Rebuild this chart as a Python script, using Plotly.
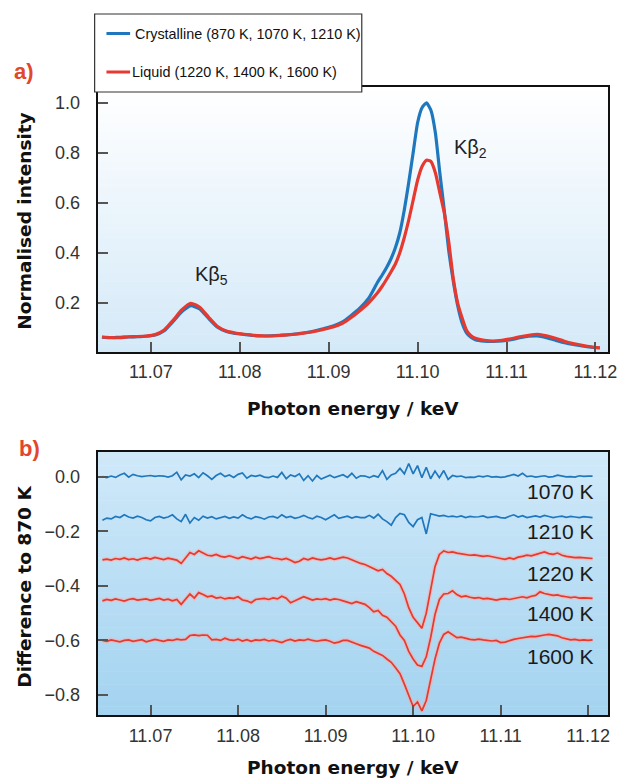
import plotly.graph_objects as go

# ---------------- data ----------------
E_TOP = [11.0645, 11.0655, 11.0665, 11.0675, 11.0685, 11.0695, 11.0705, 11.0715, 11.0725, 11.0735,
         11.0745, 11.0755, 11.0765, 11.0775, 11.0785, 11.0795, 11.0805, 11.0815, 11.0825, 11.0835,
         11.0845, 11.0855, 11.0865, 11.0875, 11.0885, 11.0895, 11.0905, 11.0915, 11.0925, 11.0935,
         11.0945, 11.0955, 11.0960, 11.0965, 11.0970, 11.0975, 11.0980, 11.0985, 11.0990, 11.0995,
         11.1000, 11.1005, 11.1010, 11.1015, 11.1020, 11.1025, 11.1030, 11.1035, 11.1040, 11.1045,
         11.1050, 11.1055, 11.1060, 11.1065, 11.1075, 11.1085, 11.1095, 11.1105, 11.1115, 11.1125,
         11.1135, 11.1145, 11.1155, 11.1165, 11.1175, 11.1185, 11.1195, 11.1205]

CRYSTALLINE = [0.062, 0.060, 0.062, 0.063, 0.064, 0.066, 0.071, 0.088, 0.125, 0.165,
               0.188, 0.175, 0.137, 0.102, 0.085, 0.077, 0.073, 0.069, 0.067, 0.068,
               0.070, 0.072, 0.076, 0.081, 0.088, 0.097, 0.107, 0.122, 0.148, 0.178,
               0.218, 0.282, 0.310, 0.340, 0.375, 0.420, 0.480, 0.570, 0.680, 0.800,
               0.920, 0.980, 1.000, 0.970, 0.880, 0.720, 0.570, 0.410, 0.290, 0.190,
               0.120, 0.080, 0.062, 0.052, 0.046, 0.045, 0.047, 0.052, 0.060, 0.066,
               0.067, 0.060, 0.050, 0.040, 0.033, 0.027, 0.022, 0.019]

LIQUID = [0.063, 0.061, 0.060, 0.064, 0.065, 0.067, 0.073, 0.091, 0.130, 0.172,
          0.198, 0.182, 0.142, 0.105, 0.087, 0.079, 0.074, 0.070, 0.068, 0.067,
          0.069, 0.072, 0.075, 0.080, 0.086, 0.094, 0.103, 0.117, 0.140, 0.168,
          0.200, 0.240, 0.265, 0.293, 0.323, 0.355, 0.400, 0.460, 0.530, 0.610,
          0.690, 0.745, 0.770, 0.765, 0.720, 0.640, 0.560, 0.445, 0.300, 0.200,
          0.140, 0.090, 0.068, 0.058, 0.050, 0.047, 0.050, 0.056, 0.064, 0.070,
          0.074, 0.068, 0.058, 0.046, 0.037, 0.030, 0.024, 0.020]

E_DIFF = [11.0645, 11.0650, 11.0655, 11.0660, 11.0665, 11.0670, 11.0675, 11.0680, 11.0685, 11.0690,
          11.0695, 11.0700, 11.0705, 11.0710, 11.0715, 11.0720, 11.0725, 11.0730, 11.0735, 11.0740,
          11.0745, 11.0750, 11.0755, 11.0760, 11.0765, 11.0770, 11.0775, 11.0780, 11.0785, 11.0790,
          11.0795, 11.0800, 11.0805, 11.0810, 11.0815, 11.0820, 11.0825, 11.0830, 11.0835, 11.0840,
          11.0845, 11.0850, 11.0855, 11.0860, 11.0865, 11.0870, 11.0875, 11.0880, 11.0885, 11.0890,
          11.0895, 11.0900, 11.0905, 11.0910, 11.0915, 11.0920, 11.0925, 11.0930, 11.0935, 11.0940,
          11.0945, 11.0950, 11.0955, 11.0960, 11.0965, 11.0970, 11.0975, 11.0980, 11.0985, 11.0990,
          11.0995, 11.1000, 11.1005, 11.1010, 11.1015, 11.1020, 11.1025, 11.1030, 11.1035, 11.1040,
          11.1045, 11.1050, 11.1055, 11.1060, 11.1065, 11.1070, 11.1075, 11.1080, 11.1085, 11.1090,
          11.1095, 11.1100, 11.1105, 11.1110, 11.1115, 11.1120, 11.1125, 11.1130, 11.1135, 11.1140,
          11.1145, 11.1150, 11.1155, 11.1160, 11.1165, 11.1170, 11.1175, 11.1180, 11.1185, 11.1190,
          11.1195, 11.1200, 11.1205]

D_1070 = [0.000, -0.004, 0.002, -0.003, 0.006, 0.012, -0.002, 0.008, 0.003, 0.000,
          0.002, 0.004, 0.001, 0.003, 0.002, -0.002, 0.003, 0.016, -0.012, 0.006,
          0.002, 0.010, -0.004, 0.014, 0.003, -0.010, 0.004, 0.012, 0.000, 0.006,
          -0.003, 0.008, 0.013, -0.006, 0.004, 0.001, 0.005, -0.002, -0.004, 0.002,
          -0.003, 0.015, -0.008, 0.006, 0.000, 0.010, -0.014, 0.003, -0.016, 0.004,
          -0.009, -0.003, 0.005, -0.004, 0.002, 0.007, -0.003, 0.012, -0.006, 0.003,
          0.002, -0.004, 0.003, -0.002, 0.022, -0.010, 0.006, 0.012, 0.030, 0.010,
          0.048, 0.010, 0.040, -0.004, 0.034, -0.008, 0.020, -0.004, 0.022, -0.010,
          0.004, 0.000, 0.002, -0.004, -0.002, -0.003, 0.002, -0.001, 0.003, -0.002,
          0.000, -0.003, -0.001, 0.004, 0.008, 0.002, 0.012, 0.000, 0.002, -0.002,
          0.001, 0.003, -0.002, 0.000, 0.005, 0.002, -0.001, 0.000, -0.002, 0.003,
          0.001, 0.002, 0.002]

D_1210 = [-0.160, -0.152, -0.155, -0.146, -0.150, -0.140, -0.148, -0.152, -0.145, -0.150,
          -0.158, -0.162, -0.150, -0.146, -0.152, -0.148, -0.140, -0.155, -0.165, -0.138,
          -0.170, -0.150, -0.160, -0.145, -0.152, -0.147, -0.155, -0.150, -0.146, -0.153,
          -0.148, -0.152, -0.140, -0.150, -0.155, -0.147, -0.150, -0.156, -0.148, -0.146,
          -0.152, -0.140, -0.150, -0.146, -0.153, -0.149, -0.142, -0.150, -0.155, -0.145,
          -0.150, -0.158, -0.148, -0.140, -0.153, -0.150, -0.145, -0.152, -0.147, -0.150,
          -0.150, -0.142, -0.152, -0.138, -0.155, -0.165, -0.178, -0.150, -0.135, -0.140,
          -0.168, -0.183, -0.158, -0.150, -0.210, -0.136, -0.140, -0.145, -0.142, -0.147,
          -0.145, -0.148, -0.144, -0.150, -0.146, -0.148, -0.147, -0.144, -0.150, -0.148,
          -0.146, -0.150, -0.152, -0.145, -0.140, -0.148, -0.143, -0.150, -0.146, -0.144,
          -0.148, -0.142, -0.146, -0.150, -0.147, -0.145, -0.149, -0.146, -0.148, -0.150,
          -0.147, -0.149, -0.150]

D_1220 = [-0.305, -0.302, -0.306, -0.300, -0.303, -0.298, -0.304, -0.301, -0.306, -0.300,
          -0.298, -0.302, -0.296, -0.300, -0.304, -0.299, -0.302, -0.306, -0.318, -0.300,
          -0.278, -0.285, -0.272, -0.280, -0.288, -0.290, -0.285, -0.292, -0.295, -0.290,
          -0.296, -0.300, -0.293, -0.298, -0.302, -0.295, -0.300, -0.297, -0.293, -0.299,
          -0.300, -0.304, -0.300, -0.306, -0.315, -0.310, -0.300, -0.305, -0.298, -0.302,
          -0.305, -0.302, -0.298, -0.303, -0.300, -0.295, -0.298, -0.305, -0.310, -0.318,
          -0.322, -0.330, -0.335, -0.345, -0.340, -0.355, -0.365, -0.380, -0.395, -0.430,
          -0.480, -0.515, -0.535, -0.555, -0.500, -0.410, -0.330, -0.285, -0.272, -0.278,
          -0.276, -0.280, -0.283, -0.285, -0.288, -0.287, -0.290, -0.292, -0.290, -0.294,
          -0.296, -0.300, -0.303, -0.298, -0.302, -0.295, -0.292, -0.288, -0.290, -0.285,
          -0.282, -0.276, -0.282, -0.285, -0.280, -0.288, -0.292, -0.295, -0.297, -0.296,
          -0.298, -0.300, -0.300]

D_1400 = [-0.455, -0.450, -0.453, -0.448, -0.452, -0.456, -0.450, -0.447, -0.452, -0.450,
          -0.448, -0.453, -0.450, -0.446, -0.452, -0.449, -0.455, -0.450, -0.468, -0.448,
          -0.430, -0.445, -0.425, -0.432, -0.440, -0.437, -0.445, -0.442, -0.448, -0.444,
          -0.446, -0.440, -0.452, -0.455, -0.462, -0.450, -0.448, -0.446, -0.450, -0.444,
          -0.448, -0.438, -0.445, -0.462, -0.455, -0.448, -0.440, -0.446, -0.452, -0.448,
          -0.450, -0.447, -0.452, -0.448, -0.450, -0.455, -0.460, -0.465, -0.458, -0.464,
          -0.468, -0.480, -0.495, -0.490, -0.508, -0.515, -0.530, -0.548, -0.580, -0.600,
          -0.640, -0.668, -0.690, -0.695, -0.660, -0.590, -0.505, -0.450, -0.430, -0.428,
          -0.418, -0.432, -0.440, -0.437, -0.442, -0.445, -0.443, -0.448, -0.446, -0.450,
          -0.452, -0.449, -0.447, -0.450, -0.446, -0.442, -0.440, -0.444, -0.438, -0.435,
          -0.422, -0.428, -0.432, -0.435, -0.433, -0.438, -0.440, -0.443, -0.441, -0.445,
          -0.444, -0.446, -0.446]

D_1600 = [-0.600, -0.603, -0.598, -0.602, -0.605, -0.600, -0.598, -0.603, -0.600, -0.597,
          -0.605, -0.600, -0.596, -0.600, -0.603, -0.598, -0.600, -0.595, -0.598, -0.596,
          -0.582, -0.580, -0.582, -0.580, -0.581, -0.598, -0.596, -0.600, -0.592, -0.598,
          -0.600, -0.595, -0.602, -0.597, -0.603, -0.598, -0.600, -0.596, -0.602, -0.599,
          -0.603, -0.608, -0.600, -0.596, -0.602, -0.598, -0.600, -0.595, -0.600, -0.603,
          -0.600, -0.598, -0.603, -0.610, -0.606, -0.600, -0.600, -0.605, -0.612, -0.618,
          -0.622, -0.628, -0.640, -0.648, -0.655, -0.668, -0.680, -0.700, -0.722, -0.760,
          -0.800, -0.842, -0.825, -0.858, -0.820, -0.745, -0.668, -0.610, -0.578, -0.568,
          -0.580, -0.590, -0.588, -0.593, -0.596, -0.598, -0.595, -0.598, -0.600, -0.602,
          -0.600, -0.608, -0.606, -0.600, -0.596, -0.593, -0.590, -0.588, -0.585, -0.586,
          -0.582, -0.580, -0.578, -0.580, -0.583, -0.590, -0.595, -0.598, -0.596, -0.600,
          -0.598, -0.600, -0.598]

DIFF_LABELS = ["1070 K", "1210 K", "1220 K", "1400 K", "1600 K"]
DIFF_SERIES = [D_1070, D_1210, D_1220, D_1400, D_1600]
DIFF_PHASE = ["crystalline", "crystalline", "liquid", "liquid", "liquid"]

X_TICKS = [11.07, 11.08, 11.09, 11.10, 11.11, 11.12]
Y_TICKS_TOP = [0.2, 0.4, 0.6, 0.8, 1.0]
Y_TICKS_BOT = [0.0, -0.2, -0.4, -0.6, -0.8]

# ---------------- style ----------------
W, H = 632, 780
BLUE = "#1f78bd"
RED = "#e6392f"
PANEL_RED = "#e2472e"
TICK_FONT = dict(family="Liberation Sans, Arial, sans-serif", size=18, color="#333333")
TITLE_FONT = dict(family="DejaVu Sans, sans-serif", size=18.5, color="#111111", weight="bold")


def fx(p):
    return p / W


def fy(p):
    return 1 - p / H


fig = go.Figure()

fig.add_trace(go.Scatter(x=E_TOP, y=CRYSTALLINE, mode="lines", name="Crystalline",
                         line=dict(color=BLUE, width=3.2, shape="spline", smoothing=0.5),
                         xaxis="x", yaxis="y", showlegend=False))
fig.add_trace(go.Scatter(x=E_TOP, y=LIQUID, mode="lines", name="Liquid",
                         line=dict(color=RED, width=3.2, shape="spline", smoothing=0.5),
                         xaxis="x", yaxis="y", showlegend=False))

for lab, vals, ph in zip(DIFF_LABELS, DIFF_SERIES, DIFF_PHASE):
    col = BLUE if ph == "crystalline" else RED
    if ph == "liquid":
        fig.add_trace(go.Scatter(x=E_DIFF, y=vals, mode="lines", hoverinfo="skip",
                                 line=dict(color="rgba(255,170,160,0.55)", width=4.2),
                                 xaxis="x2", yaxis="y2", showlegend=False))
    fig.add_trace(go.Scatter(x=E_DIFF, y=vals, mode="lines", name=lab,
                             line=dict(color=col, width=1.7),
                             xaxis="x2", yaxis="y2", showlegend=False))

shapes = []


def gradient(xref, yref, c_top, c_bot, n=60):
    out = []
    for i in range(n):
        t = (i + 0.5) / n
        c = [round(c_top[k] + (c_bot[k] - c_top[k]) * t) for k in range(3)]
        y1 = 1 - i / n
        y0 = 1 - (i + 1) / n - 0.002
        out.append(dict(type="rect", xref=xref, yref=yref, x0=0, x1=1,
                        y0=max(y0, 0), y1=y1, layer="below", line=dict(width=0),
                        fillcolor="rgb(%d,%d,%d)" % tuple(c)))
    return out


shapes += gradient("x domain", "y domain", (255, 255, 255), (212, 233, 248))
shapes += gradient("x2 domain", "y2 domain", (208, 233, 249), (163, 211, 240))

# legend box (drawn manually)
shapes.append(dict(type="rect", xref="paper", yref="paper", x0=fx(96), x1=fx(367),
                   y0=fy(92), y1=fy(14), fillcolor="white", line=dict(color="#333333", width=1.2),
                   layer="above"))
shapes.append(dict(type="line", xref="paper", yref="paper", x0=fx(108), x1=fx(132),
                   y0=fy(33.5), y1=fy(33.5), line=dict(color=BLUE, width=3), layer="above"))
shapes.append(dict(type="line", xref="paper", yref="paper", x0=fx(108), x1=fx(132),
                   y0=fy(72), y1=fy(72), line=dict(color=RED, width=3), layer="above"))

annotations = []
LEG_FONT = dict(family="Liberation Sans, Arial, sans-serif", size=14.4, color="#111111")
annotations.append(dict(xref="paper", yref="paper", x=fx(251.5), y=fy(34), xanchor="center",
                        yanchor="middle", showarrow=False, font=LEG_FONT,
                        text="Crystalline (870 K, 1070 K, 1210 K)"))
annotations.append(dict(xref="paper", yref="paper", x=fx(238), y=fy(72), xanchor="center",
                        yanchor="middle", showarrow=False, font=LEG_FONT,
                        text="Liquid (1220 K, 1400 K, 1600 K)"))

# panel labels
PL_FONT = dict(family="Liberation Sans, Arial, sans-serif", size=22, color=PANEL_RED, weight="bold")
annotations.append(dict(xref="paper", yref="paper", x=fx(12), y=fy(71), xanchor="left",
                        yanchor="middle", showarrow=False, font=PL_FONT, text="a)"))
annotations.append(dict(xref="paper", yref="paper", x=fx(17), y=fy(449), xanchor="left",
                        yanchor="middle", showarrow=False, font=PL_FONT, text="b)"))

# axis titles
annotations.append(dict(xref="paper", yref="paper", x=fx(358), y=fy(408), xanchor="center",
                        yanchor="middle", showarrow=False, font=TITLE_FONT,
                        text="Photon energy / keV"))
annotations.append(dict(xref="paper", yref="paper", x=fx(358), y=fy(767), xanchor="center",
                        yanchor="middle", showarrow=False, font=TITLE_FONT,
                        text="Photon energy / keV"))
annotations.append(dict(xref="paper", yref="paper", x=fx(24), y=fy(221), xanchor="center",
                        yanchor="middle", showarrow=False, font=TITLE_FONT, textangle=-90,
                        text="Normalised intensity"))
annotations.append(dict(xref="paper", yref="paper", x=fx(24), y=fy(587), xanchor="center",
                        yanchor="middle", showarrow=False, font=TITLE_FONT, textangle=-90,
                        text="Difference to 870 K"))

# peak labels
PK_FONT = dict(family="Liberation Sans, Arial, sans-serif", size=20, color="#222222")
annotations.append(dict(xref="paper", yref="paper", x=fx(196), y=fy(275), xanchor="left",
                        yanchor="middle", showarrow=False, font=PK_FONT, text="Kβ<sub>5</sub>"))
annotations.append(dict(xref="paper", yref="paper", x=fx(459), y=fy(148), xanchor="left",
                        yanchor="middle", showarrow=False, font=PK_FONT, text="Kβ<sub>2</sub>"))

# temperature labels
LAB_Y = [491, 531, 573, 613, 656]
T_FONT = dict(family="Liberation Sans, Arial, sans-serif", size=21, color="#1a1a1a")
for lab, yy in zip(DIFF_LABELS, LAB_Y):
    annotations.append(dict(xref="paper", yref="paper", x=fx(605), y=fy(yy), xanchor="right",
                            yanchor="middle", showarrow=False, font=T_FONT, text=lab))

axis_common = dict(showline=True, linecolor="#111111", linewidth=2, mirror=True,
                   showgrid=False, zeroline=False, ticks="inside", ticklen=10,
                   tickwidth=1.5, tickcolor="#555555", tickfont=TICK_FONT)

fig.update_layout(
    width=W, height=H,
    margin=dict(l=0, r=0, t=0, b=0),
    paper_bgcolor="white", plot_bgcolor="white",
    showlegend=False,
    xaxis=dict(domain=[fx(99), fx(617)], range=[11.06401, 11.12144], anchor="y",
               tickvals=X_TICKS, tickformat=".2f", ticklabelstandoff=2, **axis_common),
    yaxis=dict(domain=[fy(352), fy(87)], range=[0.003, 1.063], anchor="x",
               tickvals=Y_TICKS_TOP, tickformat=".1f", ticklabelstandoff=12, **axis_common),
    xaxis2=dict(domain=[fx(99), fx(617)], range=[11.06395, 11.12229], anchor="y2",
                tickvals=X_TICKS, tickformat=".2f", ticklabelstandoff=3, **axis_common),
    yaxis2=dict(domain=[fy(715), fy(452)], range=[-0.873, 0.09], anchor="x2",
                tickvals=Y_TICKS_BOT, tickformat=".1f", ticklabelstandoff=12, **axis_common),
    shapes=shapes,
    annotations=annotations,
)

fig.write_html("out.html")
